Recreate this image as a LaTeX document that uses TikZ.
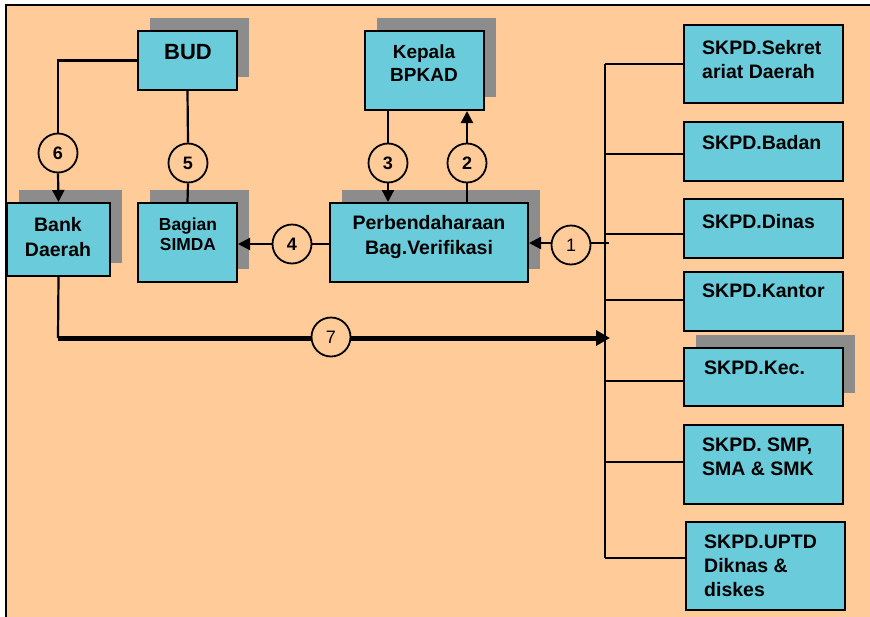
\documentclass[tikz,border=0pt]{standalone}
\usepackage{fontspec}
\setmainfont{Liberation Sans}
\usetikzlibrary{arrows.meta,shadows}
\definecolor{peach}{RGB}{255,204,153}
\definecolor{boxc}{RGB}{106,203,218}
\definecolor{shd}{RGB}{140,140,140}
\begin{document}
\begin{tikzpicture}[x=1pt,y=-1pt,
  box/.style={draw=black,line width=2pt,fill=boxc,inner sep=0pt},
  sbox/.style={box,general shadow={fill=shd,shadow xshift=12pt,shadow yshift=13pt}},
  lbl/.style={font=\fontsize{19.5}{25}\selectfont\bfseries,align=center,inner sep=0pt},
  sklbl/.style={font=\fontsize{19.5}{24}\selectfont\bfseries,align=left,inner sep=0pt,anchor=north west},
  circ/.style={circle,draw=black,line width=1.8pt,fill=peach,minimum size=39pt,inner sep=0pt,font=\fontsize{18}{18}\selectfont\bfseries},
  conn/.style={line width=2.2pt},
  arr/.style={conn,-{Triangle[length=12pt,width=12pt]}},
  thick7/.style={line width=5pt,-{Triangle[length=14pt,width=15pt]}}]
\useasboundingbox (0,0) rectangle (870,616);
\fill[white] (0,0) rectangle (870,616);
\draw[fill=peach,line width=2.4pt] (6,5) rectangle (880,630);

% boxes
\node[sbox,minimum width=99pt,minimum height=59pt] (bud) at (187.5,60.5) {};
\node[sbox,minimum width=103pt,minimum height=73pt] (bank) at (58.5,239.5) {};
\node[sbox,minimum width=99pt,minimum height=79pt] (simda) at (187.5,242.5) {};
\node[sbox,minimum width=119pt,minimum height=79pt] (kep) at (424.5,70.5) {};
\node[sbox,minimum width=198pt,minimum height=79pt] (perb) at (429,242.5) {};
\node[box,minimum width=159pt,minimum height=78pt] (sk1) at (763.5,64) {};
\node[box,minimum width=159pt,minimum height=59pt] (sk2) at (763.5,151.5) {};
\node[box,minimum width=159pt,minimum height=59pt] (sk3) at (763.5,228.5) {};
\node[box,minimum width=159pt,minimum height=59pt] (sk4) at (763.5,301.5) {};
\node[sbox,minimum width=159pt,minimum height=58pt] (sk5) at (763.5,377) {};
\node[box,minimum width=159pt,minimum height=79pt] (sk6) at (763.5,464.5) {};
\node[box,minimum width=159pt,minimum height=88pt] (sk7) at (765.5,566) {};

% texts
\node[lbl,font=\fontsize{22}{25}\selectfont\bfseries] (tbud) at (188,52) {BUD};
\node[lbl] (tbank) at (58,237) {Bank\\Daerah};
\node[lbl,font=\fontsize{17.4}{20}\selectfont\bfseries] (tsimda) at (188,234) {Bagian\\SIMDA};
\node[lbl,font=\fontsize{19}{23}\selectfont\bfseries] (tkep) at (424,63) {Kepala\\BPKAD};
\node[lbl] (tperb) at (429,237) {Perbendaharaan\\Bag.Verifikasi};
\node[sklbl] (tsk1) at (702,40) {SKPD.Sekret\\ariat Daerah};
\node[sklbl] (tsk2) at (702,135) {SKPD.Badan};
\node[sklbl] (tsk3) at (702,214) {SKPD.Dinas};
\node[sklbl] (tsk4) at (702,284) {SKPD.Kantor};
\node[sklbl] (tsk5) at (704,361) {SKPD.Kec.};
\node[sklbl] (tsk6) at (702,438) {SKPD. SMP,\\SMA \& SMK};
\node[sklbl] (tsk7) at (704,535) {SKPD.UPTD\\Diknas \&\\diskes};

% bus
\coordinate (bustop) at (605,64);
\coordinate (busbot) at (605,558);
\coordinate (bus1) at (609,243);
\coordinate (bus7) at (610,338);
\coordinate (b7) at (58,338);
\coordinate (b6) at (58,60.5);
\draw[conn] (bustop) -- (busbot);
\draw[conn] (bustop) -- (sk1.west);
\draw[conn] (bustop |- 0,154) -- (sk2.west |- 0,154);
\draw[conn] (bustop |- 0,234) -- (sk3.west |- 0,234);
\draw[conn] (bustop |- 0,300) -- (sk4.west |- 0,300);
\draw[conn] (bustop |- 0,381) -- (sk5.west |- 0,381);
\draw[conn] (bustop |- 0,462) -- (sk6.west |- 0,462);
\draw[conn] (busbot) -- (sk7.west |- busbot);

% circles
\node[circ] (c6) at (58,153) {6};
\node[circ] (c5) at (188,163) {5};
\node[circ] (c4) at (292,244) {4};
\node[circ] (c3) at (388,163) {3};
\node[circ] (c2) at (467,163) {2};
\node[circ,font=\fontsize{18}{18}\selectfont] (c1) at (571,245) {1};
\node[circ,font=\fontsize{18}{18}\selectfont] (c7) at (331,337) {7};

% connectors
\draw[conn] (bud.west) -- (b6) -- (c6.north);
\draw[arr] (c6.south) -- (bank.north);
\draw[conn] (bud.south) -- (c5.north);
\draw[conn] (c5.south) -- (simda.north);
\draw[conn] (perb.west |- c4) -- (c4.east);
\draw[arr] (c4.west) -- (simda.east |- c4);
\draw[conn] (c3 |- kep.south) -- (c3.north);
\draw[arr] (c3.south) -- (c3 |- perb.north);
\draw[conn] (c2 |- perb.north) -- (c2.south);
\draw[arr] (c2.north) -- (c2 |- kep.south);
\draw[conn] (bus1) -- (c1.east |- bus1);
\draw[arr] (c1.west |- bus1) -- (perb.east |- bus1);
\draw[conn] (bank.south) -- (b7);
\draw[line width=5pt] (b7) -- (c7.west |- b7);
\draw[thick7] (c7.east |- b7) -- (bus7);
\end{tikzpicture}
\end{document}
